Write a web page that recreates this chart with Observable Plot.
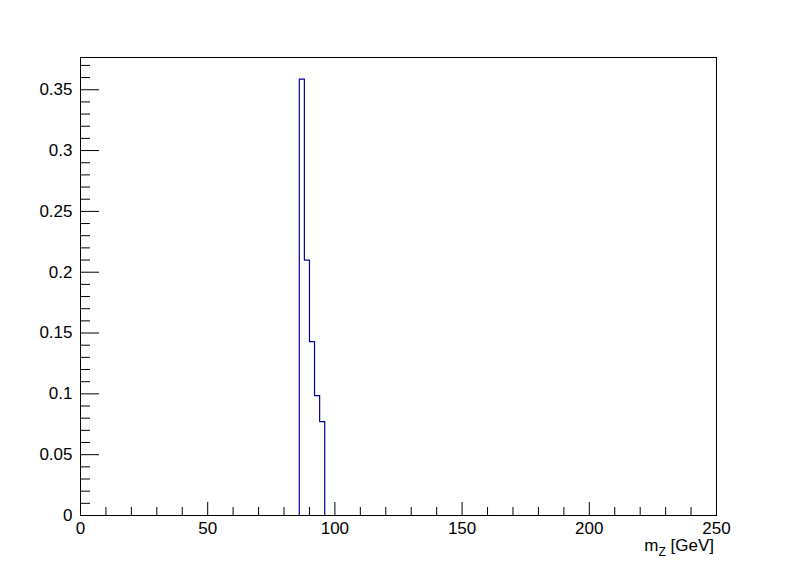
<!DOCTYPE html>
<html>
<head>
<meta charset="utf-8">
<script src="https://cdn.jsdelivr.net/npm/d3@7"></script>
<script src="https://cdn.jsdelivr.net/npm/@observablehq/plot@0.6"></script>
<style>
  html, body { margin: 0; padding: 0; background: #fff; }
  #chart svg { display: block; }
</style>
</head>
<body>
<div id="chart"></div>
<script>
// Histogram bin edges (GeV) and contents
const binEdges = [86, 88, 90, 92, 94, 96];
const binValues = [0.3588, 0.210, 0.143, 0.0986, 0.0772];

// Axis ticks and labels
const xMajorTicks = [0, 50, 100, 150, 200, 250];
const xTickLabels = ["0", "50", "100", "150", "200", "250"];
const xMinorTicks = d3.range(0, 251, 10).filter(v => v % 50 !== 0);
const yMajorTicks = [0, 0.05, 0.1, 0.15, 0.2, 0.25, 0.3, 0.35];
const yTickLabels = ["0", "0.05", "0.1", "0.15", "0.2", "0.25", "0.3", "0.35"];
const yMinorTicks = d3.range(1, 38).map(i => i / 100).filter(v => Math.round(v * 100) % 5 !== 0);
const xTitle = ["m", "Z", " [GeV]"];

// Step outline (ROOT-style histogram)
const outline = [{x: binEdges[0], y: 0}];
binValues.forEach((v, i) => outline.push({x: binEdges[i], y: v}));
outline.push({x: binEdges[binEdges.length - 1], y: 0});

const W = 796, H = 572;
const mL = 80, mR = 80, mT = 57, mB = 57;
const plotW = W - mL - mR, plotH = H - mT - mB;
const FONT = "'Liberation Sans', Arial, Helvetica, sans-serif";

const chart = Plot.plot({
  width: W,
  height: H,
  marginLeft: mL,
  marginRight: mR,
  marginTop: mT,
  marginBottom: mB,
  style: {fontFamily: FONT, fontSize: "17px", background: "#fff", color: "#000"},
  x: {domain: [0, 250]},
  y: {domain: [0, 0.3765]},
  marks: [
    Plot.line(outline, {x: "x", y: "y", curve: "step-after", stroke: "#000099", strokeWidth: 1.2}),
    Plot.tickX(xMajorTicks, {x: d => d, insetTop: plotH - 13, stroke: "#000"}),
    Plot.tickX(xMinorTicks, {x: d => d, insetTop: plotH - 8, stroke: "#000"}),
    Plot.tickY(yMajorTicks, {y: d => d, insetRight: plotW - 19, stroke: "#000"}),
    Plot.tickY(yMinorTicks, {y: d => d, insetRight: plotW - 10, stroke: "#000"}),
    Plot.axisX({ticks: xMajorTicks, tickFormat: (d, i) => xTickLabels[i], tickSize: 0, tickPadding: 6, fontSize: 17, label: null}),
    Plot.axisY({ticks: yMajorTicks, tickFormat: (d, i) => yTickLabels[i], tickSize: 0, tickPadding: 8, fontSize: 17, label: null}),
    Plot.frame({stroke: "#000"})
  ]
});

document.getElementById("chart").appendChild(chart);

// X-axis title with subscript
const svg = d3.select(chart);
const t = svg.append("text")
  .attr("x", W - mR - 2)
  .attr("y", 551)
  .attr("text-anchor", "end")
  .attr("font-family", FONT)
  .attr("font-size", 17)
  .attr("fill", "#000");
t.append("tspan").text(xTitle[0]);
t.append("tspan").attr("dy", 5).attr("font-size", 12).text(xTitle[1]);
t.append("tspan").attr("dy", -5).text(xTitle[2]);
</script>
</body>
</html>
